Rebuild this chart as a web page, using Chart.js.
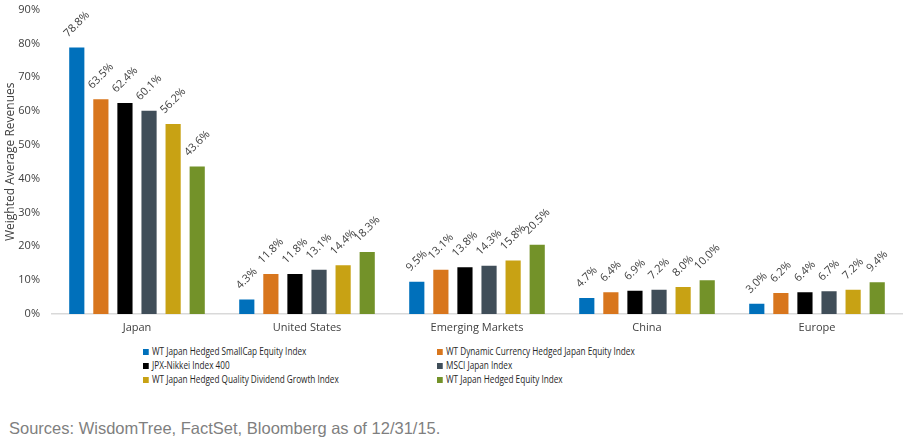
<!DOCTYPE html>
<html>
<head>
<meta charset="utf-8">
<script src="https://cdn.jsdelivr.net/npm/chart.js@4"></script>
<style>
body { margin: 0; background: #fff; width: 914px; height: 441px; overflow: hidden; position: relative; font-family: "Open Sans", sans-serif; }
#wrap { position: absolute; left: 0; top: -9px; width: 914px; height: 347px; }
.item { position: absolute; font-size: 10px; font-family: "Open Sans", sans-serif; color: #262626; white-space: nowrap; line-height: 12px; transform: scaleX(0.82); transform-origin: 0 50%; }
.item .box { display: inline-block; width: 7px; height: 6px; margin-right: 4px; vertical-align: 0px; }
#source { position: absolute; left: 9px; top: 419px; font: 16.5px "Liberation Sans", Arial, sans-serif; color: #7f7f7f; white-space: nowrap; }
</style>
</head>
<body>
<div id="wrap"><canvas id="chart"></canvas></div>
<div id="legend"></div>
<div id="source">Sources: WisdomTree, FactSet, Bloomberg as of 12/31/15.</div>
<script>
"use strict"

const regions = ['Japan', 'United States', 'Emerging Markets', 'China', 'Europe'];
const seriesNames = [
    'WT Japan Hedged SmallCap Equity Index',
    'WT Dynamic Currency Hedged Japan Equity Index',
    'JPX-Nikkei Index 400',
    'MSCI Japan Index',
    'WT Japan Hedged Quality Dividend Growth Index',
    'WT Japan Hedged Equity Index'
];
const smallCap = [78.8, 4.3, 9.5, 4.7, 3.0];
const dynamicCurrency = [63.5, 11.8, 13.1, 6.4, 6.2];
const jpxNikkei = [62.4, 11.8, 13.8, 6.9, 6.4];
const msciJapan = [60.1, 13.1, 14.3, 7.2, 6.7];
const qualityDividend = [56.2, 14.4, 15.8, 8.0, 7.2];
const hedgedEquity = [43.6, 18.3, 20.5, 10.0, 9.4];
const seriesColors = ['#0070bb', '#d8761d', '#000000', '#404e59', '#c8a214', '#739229'];

const allSeries = [smallCap, dynamicCurrency, jpxNikkei, msciJapan, qualityDividend, hedgedEquity];

// 막대 위에 45도 회전된 값 표시
const barLabels = {
    id: 'barLabels',
    afterDatasetsDraw(chart) {
        const ctx = chart.ctx;
        ctx.save();
        ctx.font = '11px "Open Sans"';
        ctx.fillStyle = '#404040';
        ctx.textAlign = 'center';
        ctx.textBaseline = 'middle';
        chart.data.datasets.forEach((ds, i) => {
            chart.getDatasetMeta(i).data.forEach((bar, j) => {
                const txt = ds.data[j].toFixed(1) + '%';
                const w = ctx.measureText(txt).width;
                const half = (w + 12) * Math.SQRT1_2 / 2;
                ctx.save();
                ctx.translate(bar.x, bar.y - 8 - half);
                ctx.rotate(-Math.PI / 4);
                ctx.fillText(txt, 0, 0);
                ctx.restore();
            });
        });
        ctx.restore();
    }
};

const data = {
    labels: regions,
    datasets: allSeries.map((values, i) => ({
        label: seriesNames[i],
        data: values,
        backgroundColor: seriesColors[i],
        borderWidth: 0,
        categoryPercentage: 0.85,
        barPercentage: 0.63
    }))
};

const config = {
    type: 'bar',
    data: data,
    options: {
        responsive: true,
        maintainAspectRatio: false,
        animation: false,
        layout: { padding: { top: 1, right: 12, left: 0, bottom: 0 } },
        scales: {
            x: {
                grid: { display: false, drawTicks: false },
                border: { color: '#d9d9d9', width: 1.5 },
                ticks: { color: '#404040', font: { family: "'Open Sans'", size: 11 }, padding: 7 },
                afterFit: (scale) => { scale.height = 24; }
            },
            y: {
                min: 0,
                max: 90,
                grid: { display: false, drawTicks: false },
                border: { display: false },
                ticks: {
                    stepSize: 10,
                    color: '#404040',
                    font: { family: "'Open Sans'", size: 11 },
                    padding: 12,
                    callback: (v) => v + '%'
                },
                title: {
                    display: true,
                    text: 'Weighted Average Revenues',
                    color: '#404040',
                    font: { family: "'Open Sans'", size: 12 },
                    padding: { top: 3, bottom: 0 }
                },
                afterFit: (scale) => { scale.width = 52; }
            }
        },
        plugins: {
            legend: { display: false },
            tooltip: { enabled: false }
        }
    },
    plugins: [barLabels]
};

new Chart(document.getElementById('chart'), config);

// 2열 범례
const legendPos = [[143, 345], [437, 345], [143, 359], [437, 359], [143, 373], [437, 373]];
const legend = document.getElementById('legend');
seriesNames.forEach((name, i) => {
    const item = document.createElement('div');
    item.className = 'item';
    item.style.left = legendPos[i][0] + 'px';
    item.style.top = legendPos[i][1] + 'px';
    item.innerHTML = '<span class="box" style="background:' + seriesColors[i] + '"></span>' + name;
    legend.appendChild(item);
});
</script>
</body>
</html>
